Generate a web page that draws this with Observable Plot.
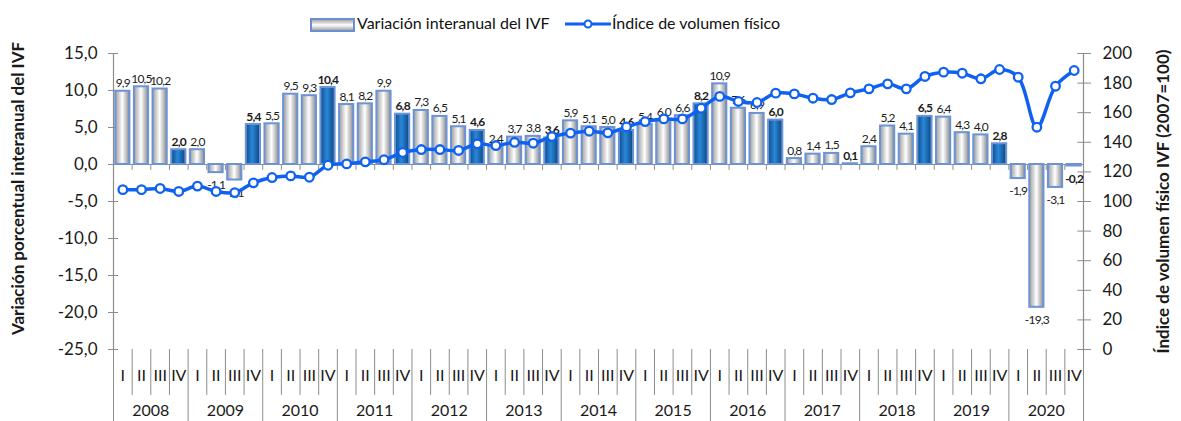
<!DOCTYPE html>
<html><head><meta charset="utf-8">
<script src="https://cdn.jsdelivr.net/npm/d3@7"></script>
<script src="https://cdn.jsdelivr.net/npm/@observablehq/plot@0.6"></script>
<style>
body{margin:0;background:#fff;font-family:Lato,"Noto Sans",sans-serif;}
#wrap{position:relative;width:1181px;}
#legend{position:relative;height:40px;width:1181px;font-size:16px;color:#111;}
#legend .sw{position:absolute;left:310px;top:18px;width:41px;height:10px;border:2px solid #6b8fd0;background:linear-gradient(to bottom,#a9a9a9,#ffffff 50%,#a9a9a9);}
#legend .t1{position:absolute;left:357px;top:13px;white-space:nowrap;}
#legend .ln{position:absolute;left:565px;top:14px;}
#legend .t2{position:absolute;left:612px;top:13px;white-space:nowrap;}
</style></head><body>
<div id="wrap">
  <div id="legend">
    <div class="sw"></div><div class="t1">Variación interanual del IVF</div>
    <svg class="ln" width="46" height="20"><line x1="0" x2="46" y1="10" y2="10" stroke="#0f62f0" stroke-width="3"/><circle cx="23" cy="10" r="3.5" fill="#fff" stroke="#0f62f0" stroke-width="2"/></svg>
    <div class="t2">Índice de volumen físico</div>
  </div>
  <div id="chart"></div>
</div>
<script>
const years = [2008,2009,2010,2011,2012,2013,2014,2015,2016,2017,2018,2019,2020];
const quarters = ["I","II","III","IV"];
const variacion = [
  9.9,10.5,10.2,2.0,
  2.0,-1.1,-2.1,5.4,
  5.5,9.5,9.3,10.4,
  8.1,8.2,9.9,6.8,
  7.3,6.5,5.1,4.6,
  2.4,3.7,3.8,3.6,
  5.9,5.1,5.0,4.6,
  5.4,6.0,6.6,8.2,
  10.9,7.6,6.9,6.0,
  0.8,1.4,1.5,0.1,
  2.4,5.2,4.1,6.5,
  6.4,4.3,4.0,2.8,
  -1.9,-19.3,-3.1,-0.2
];
const indice = [
  108.0,108.0,108.8,106.8,
  110.4,106.8,106.0,112.6,
  116.2,117.3,116.4,124.5,
  125.4,126.8,128.2,133.1,
  135.1,135.1,134.5,139.0,
  137.8,140.0,139.4,143.9,
  146.2,147.5,146.4,150.4,
  154.0,155.8,155.8,163.0,
  171.0,167.6,166.9,173.2,
  172.7,169.8,168.9,173.4,
  176.1,179.5,176.1,184.5,
  187.4,186.7,182.9,189.2,
  184.0,150.2,177.9,188.5
];
const leftTicks = [-25,-20,-15,-10,-5,0,5,10,15];
const rightTicks = [0,20,40,60,80,100,120,140,160,180,200];

// map right-axis index values onto the left-axis scale domain [-25,15] <-> [0,200]
const toLeft = v => -25 + v * 40 / 200;
const fromLeft = y => (y + 25) * 200 / 40;

const rows = variacion.map((v, i) => ({
  i, v, idx: toLeft(indice[i]),
  q: quarters[i % 4], year: years[Math.floor(i / 4)], annual: i % 4 === 3
}));
const fmt = v => v.toFixed(1).replace(".", ",");
const quarterSeps = d3.range(1, 52).filter(i => i % 4 !== 0);
const yearSeps = d3.range(0, 53, 4);
const QBOT = -31.2, YBOT = -34.8;
const axisColor = "#8c8c8c";
const LBL = "#1b1b1b";

const bar = (data, fill) => Plot.rectY(data, {
  x1: d => d.i + 0.12, x2: d => d.i + 0.88, y1: 0, y2: "v",
  fill, stroke: "#6b93d6", strokeWidth: 2
});
const lbl = (data, bold, pos) => Plot.text(data, {
  x: d => d.i + 0.5, y: "v", text: d => fmt(d.v),
  lineAnchor: pos ? "bottom" : "top", dy: pos ? -4 : 8,
  fontSize: 12, fontWeight: bold ? "bold" : "normal", fill: LBL
});

const chart = Plot.plot({
  width: 1181, height: 381,
  marginLeft: 113, marginRight: 98, marginTop: 13, marginBottom: 72,
  style: {fontFamily: "Lato, 'Noto Sans', sans-serif", fontSize: "13px", color: "#1a1a1a", background: "white", overflow: "visible"},
  x: {domain: [0, 52], axis: null},
  y: {domain: [-25, 15], axis: null},
  marks: [
    // axis lines
    Plot.ruleX([0, 52], {y1: -25, y2: 15, stroke: axisColor, strokeWidth: 1.2}),
    Plot.ruleY([0], {x1: 0, x2: 52, stroke: axisColor, strokeWidth: 1.2}),
    Plot.ruleX(d3.range(0, 53), {x: d => d, y1: 0, y2: -0.8, stroke: axisColor}),
    // inner halves of value-axis ticks
    Plot.ruleY(leftTicks, {y: d => d, x1: 0, x2: 0.27, stroke: axisColor}),
    Plot.ruleY(rightTicks.map(toLeft), {y: d => d, x1: 51.7, x2: 52, stroke: axisColor}),
    // bars
    bar(rows.filter(d => !d.annual), "url(#gLight)"),
    bar(rows.filter(d => d.annual), "url(#gDark)"),
    // bar labels
    lbl(rows.filter(d => d.v >= 0 && !d.annual), false, true),
    lbl(rows.filter(d => d.v >= 0 && d.annual), true, true),
    lbl(rows.filter(d => d.v < 0 && !d.annual), false, false),
    lbl(rows.filter(d => d.v < 0 && d.annual), true, false),
    // index line
    Plot.line(rows, {x: d => d.i + 0.5, y: "idx", curve: "catmull-rom", stroke: "#0f62f0", strokeWidth: 3.5}),
    Plot.dot(rows, {x: d => d.i + 0.5, y: "idx", r: 4.3, fill: "white", stroke: "#0f62f0", strokeWidth: 2.3}),
    // left axis
    Plot.axisY(leftTicks, {anchor: "left", tickFormat: fmt, tickSize: 5, tickPadding: 11, fontSize: 17, stroke: axisColor, color: "#1a1a1a", label: null}),
    // right axis
    Plot.axisY(rightTicks.map(toLeft), {anchor: "right", tickFormat: d => String(Math.round(fromLeft(d))), tickSize: 7, tickPadding: 12, fontSize: 17, stroke: axisColor, color: "#1a1a1a", label: null}),
    // axis titles
    Plot.text(["Variación porcentual interanual del IVF"], {frameAnchor: "left", text: d => d, rotate: -90, dx: -95, dy: -13, textAnchor: "middle", fontWeight: "bold", fontSize: 17}),
    Plot.text(["Índice de volumen físico IVF (2007=100)"], {frameAnchor: "right", text: d => d, rotate: -90, dx: 80, dy: 0, textAnchor: "middle", fontWeight: "bold", fontSize: 17}),
    // category axis (two levels)
    Plot.ruleX(quarterSeps, {x: d => d, y1: -25, y2: QBOT, stroke: axisColor}),
    Plot.ruleX(yearSeps, {x: d => d, y1: -25, y2: YBOT, stroke: axisColor}),
    Plot.text(rows, {x: d => d.i + 0.5, y: -28.5, text: "q", fontSize: 16}),
    Plot.text(years, {x: (d, k) => k * 4 + 2, y: -33.3, text: d => String(d), fontSize: 16})
  ]
});

// tighten bar-value labels (narrower, like the original's font)
d3.select(chart).selectAll(`g[fill="${LBL}"]`).attr("letter-spacing", "-0.8");

const defs = d3.select(chart).insert("defs", ":first-child");
const gl = defs.append("linearGradient").attr("id", "gLight").attr("x1", "0").attr("x2", "1").attr("y1", "0").attr("y2", "0");
[["0%", "#9c9c9c"], ["50%", "#ffffff"], ["100%", "#8a8a8a"]].forEach(([o, c]) => gl.append("stop").attr("offset", o).attr("stop-color", c));
const gd = defs.append("linearGradient").attr("id", "gDark").attr("x1", "0").attr("x2", "1").attr("y1", "0").attr("y2", "0");
[["0%", "#0b4d8c"], ["45%", "#2a87d8"], ["100%", "#0a467f"]].forEach(([o, c]) => gd.append("stop").attr("offset", o).attr("stop-color", c));

document.getElementById("chart").appendChild(chart);
</script>
</body></html>
